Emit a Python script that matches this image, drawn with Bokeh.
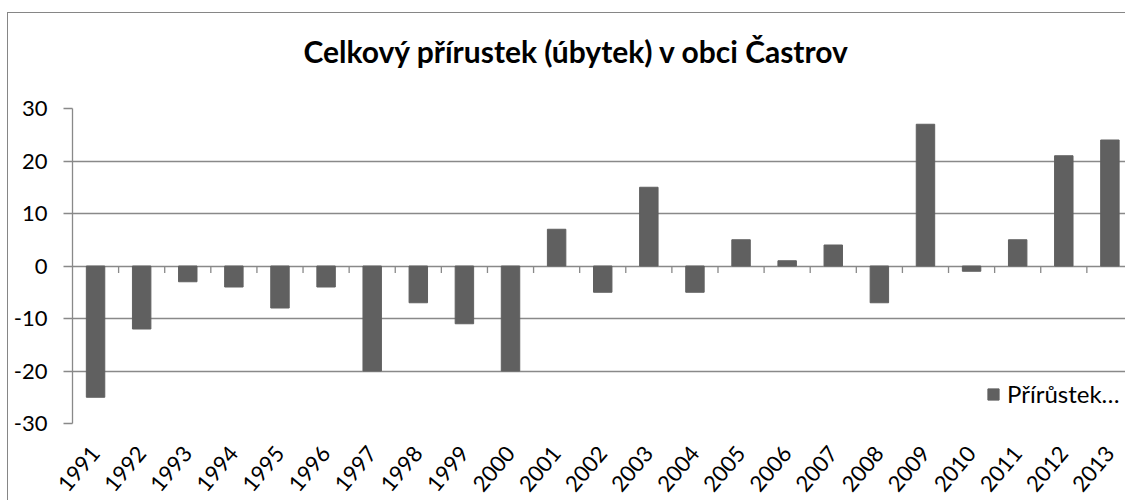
import math
from bokeh.plotting import figure
from bokeh.models import Range1d, FixedTicker, Legend, LegendItem, Title
from bokeh.embed import file_html
from bokeh.resources import INLINE

years = ["1991", "1992", "1993", "1994", "1995", "1996", "1997", "1998", "1999", "2000",
         "2001", "2002", "2003", "2004", "2005", "2006", "2007", "2008", "2009", "2010",
         "2011", "2012", "2013"]
values = [-25, -12, -3, -4, -8, -4, -20, -7, -11, -20,
          7, -5, 15, -5, 5, 1, 4, -7, 27, -1,
          5, 21, 24]
series_name = "Přírůstek…"
title_text = "Celkový přírustek (úbytek) v obci Častrov"
y_ticks = [-30, -20, -10, 0, 10, 20, 30]
y_tick_labels = ["-30", "-20", "-10", "0", "10", "20", "30"]

FONT = "Lato"
GRID = "#898989"
BAR = "#606060"

W, H = 1118, 488
top, bottom, left = 95, 76, 64
frame_h = H - top - bottom

xs = list(range(1, len(years) + 1))

p = figure(width=W, height=H, output_backend="svg", toolbar_location=None,
           x_range=Range1d(0.5, 23.36), y_range=Range1d(-30, 30),
           min_border_left=left, min_border_right=0,
           min_border_top=top, min_border_bottom=bottom)
p.styles = {"border-left": "1px solid #868686", "border-top": "1px solid #868686",
            "margin-left": "7px", "margin-top": "12px"}

# spacer between frame and title, then the title itself
p.add_layout(Title(text=" ", text_font_size="10px", standoff=27), "above")
p.add_layout(Title(text=title_text, align="left", offset=231, standoff=0,
                   text_font=FONT, text_font_size="30px", text_font_style="bold",
                   text_color="#000000"), "above")

p.outline_line_color = None
p.background_fill_color = "white"
p.border_fill_color = "white"

# grid
p.xgrid.visible = False
p.ygrid.ticker = FixedTicker(ticks=y_ticks)
p.ygrid.grid_line_color = GRID
p.ygrid.grid_line_width = 1.3

# y axis
p.yaxis.ticker = FixedTicker(ticks=y_ticks)
p.yaxis.major_label_overrides = {t: s for t, s in zip(y_ticks, y_tick_labels)}
p.yaxis.axis_line_color = GRID
p.yaxis.axis_line_width = 1.3
p.yaxis.major_tick_line_color = GRID
p.yaxis.major_tick_line_width = 1.3
p.yaxis.major_tick_out = 9
p.yaxis.major_tick_in = 0
p.yaxis.minor_tick_line_color = None
p.yaxis.major_label_standoff = 16
p.yaxis.major_label_text_font = FONT
p.yaxis.major_label_text_font_size = "22px"
p.yaxis.major_label_text_color = "#000000"

# x axis (labels only)
p.xaxis.ticker = FixedTicker(ticks=xs)
p.xaxis.major_label_overrides = {x: y for x, y in zip(xs, years)}
p.xaxis.major_label_orientation = 0.87
p.xaxis.axis_line_color = None
p.xaxis.major_tick_line_color = None
p.xaxis.minor_tick_line_color = None
p.xaxis.major_label_standoff = 20
p.xaxis.major_label_text_font = FONT
p.xaxis.major_label_text_font_size = "22px"
p.xaxis.major_label_text_color = "#000000"

bars = p.vbar(x=xs, top=values, bottom=0, width=0.4, fill_color=BAR, line_color=BAR)

# category boundary ticks on the zero line
tick_len = 7 * 60 / frame_h
bx = [x + 0.5 for x in xs]
p.segment(x0=bx, y0=[0] * len(bx), x1=bx, y1=[-tick_len] * len(bx),
          line_color=GRID, line_width=1.3)

legend = Legend(items=[LegendItem(label=series_name, renderers=[bars])],
                location=(914, 15), padding=0, margin=0, border_line_color=None,
                background_fill_alpha=0, glyph_width=14, glyph_height=14,
                label_standoff=7, label_text_font=FONT, label_text_font_size="24px",
                label_text_color="#000000")
p.add_layout(legend)

open("out.html", "w").write(file_html(p, INLINE))
